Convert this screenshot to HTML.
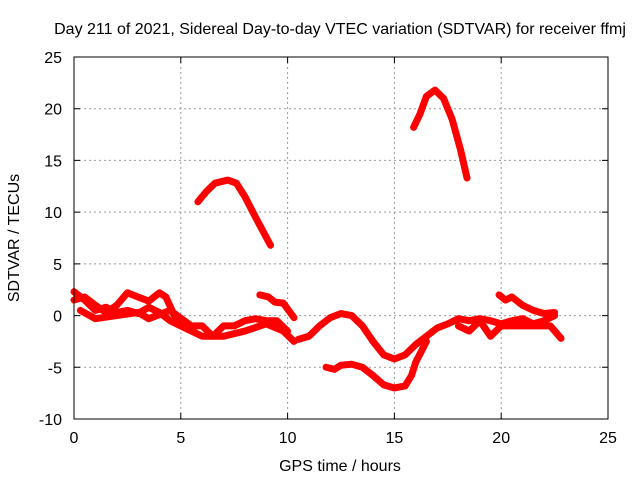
<!DOCTYPE html>
<html><head><meta charset="utf-8"><style>
body{margin:0;background:#fff;font-family:"Liberation Sans",sans-serif}
svg text{font-family:"Liberation Sans",sans-serif;font-size:16px;fill:#000}
</style></head><body>
<svg id="chart" width="640" height="480">
<text x="340" y="34" text-anchor="middle">Day 211 of 2021, Sidereal Day-to-day VTEC variation (SDTVAR) for receiver ffmj</text>
<text x="340" y="471" text-anchor="middle">GPS time / hours</text>
<text transform="translate(19,238) rotate(-90)" text-anchor="middle">SDTVAR / TECUs</text>
<g id="grid"></g><g id="series"></g>
<rect x="74" y="57" width="534" height="362" fill="none" stroke="#000"/>
<g id="ticks"></g>
</svg>
<script>
const xTicks=[0,5,10,15,20,25];
const yTicks=[-10,-5,0,5,10,15,20,25];
const seriesArc1=[[5.8,11],[6.2,12],[6.6,12.8],[7.2,13.1],[7.6,12.8],[8.0,11.5],[8.5,9.5],[9.2,6.8]];
const seriesArc2=[[15.9,18.2],[16.2,19.5],[16.5,21.2],[16.9,21.8],[17.3,21],[17.7,19],[18.1,16],[18.4,13.3]];
const seriesLow1=[[0,2.3],[0.5,1.5],[1,0.5],[1.5,0.8],[2,0.3],[2.5,0.5],[3,0.2],[3.5,0.8],[4,0.3],[4.5,-0.5],[5,-1],[5.5,-1.5],[6,-2],[7,-2],[8,-1.5],[9,-0.8],[9.8,-1.5],[10.3,-2.5]];
const seriesLow2=[[0,1.5],[0.5,1.8],[1,1],[1.5,0.3],[2,1],[2.5,2.2],[3,1.8],[3.5,1.4],[4,2.2],[4.3,1.8],[4.7,0],[5,-0.5]];
const seriesLow3=[[0.3,0.5],[1,-0.3],[2,0],[3,0.3],[3.5,-0.3],[4.5,0.5],[5.5,-1],[6,-1],[6.5,-2],[7,-1],[7.5,-1],[8,-0.5],[8.5,-0.3],[9,-0.5],[9.5,-0.5],[10,-1.5]];
const seriesShort=[[8.7,2],[9.1,1.8],[9.4,1.3],[9.8,1.2],[10.3,-0.2]];
const seriesMid=[[10.5,-2.3],[11,-2],[11.5,-1],[12,-0.2],[12.5,0.2],[13,0],[13.5,-1],[14,-2.5],[14.5,-3.8],[15,-4.2],[15.5,-3.8],[16,-2.8],[16.5,-2],[17,-1.2],[17.5,-0.8],[18,-0.3],[18.5,-0.5],[19,-0.3],[19.5,-0.5],[20,-0.8],[20.5,-0.5],[21,-0.3],[21.5,-0.8],[22,-0.5],[22.5,0]];
const seriesLowArc=[[11.8,-5],[12.2,-5.2],[12.5,-4.8],[13,-4.7],[13.5,-5],[14,-5.8],[14.5,-6.7],[15,-7],[15.5,-6.8],[15.8,-5.8],[16,-4.5],[16.5,-2.5]];
const seriesLate=[[19.9,2],[20.2,1.5],[20.5,1.8],[21,1],[21.5,0.5],[22,0.2],[22.5,0.3]];
const seriesDip=[[18,-1],[18.5,-1.5],[19,-0.5],[19.5,-2],[20,-1],[21,-1],[22,-1],[22.3,-1],[22.8,-2.2]];
const allSeries=[seriesArc1,seriesArc2,seriesLow1,seriesLow2,seriesLow3,seriesShort,seriesMid,seriesLowArc,seriesLate,seriesDip];
const X=h=>74+h*534/25, Y=v=>57+(25-v)*362/35;
const NS="http://www.w3.org/2000/svg";
const grid=document.getElementById('grid'),ticks=document.getElementById('ticks'),ser=document.getElementById('series');
function mk(tag,attrs,parent){const e=document.createElementNS(NS,tag);for(const k in attrs)e.setAttribute(k,attrs[k]);parent.appendChild(e);return e;}
xTicks.forEach(t=>{const x=X(t);
 if(t>0&&t<25){const g=mk('line',{x1:x,x2:x,y1:57,y2:419,stroke:'#999','stroke-dasharray':'2,3'},grid);
 }
 const tk=mk('path',{d:`M${x},419v-6M${x},57v6`,stroke:'#000'},ticks);
 
 const l=mk('text',{x:x,y:443,'text-anchor':'middle'},ticks);l.textContent=t;
 });
yTicks.forEach(t=>{const y=Y(t);
 if(t>-10&&t<25){const g=mk('line',{x1:74,x2:608,y1:y,y2:y,stroke:'#999','stroke-dasharray':'2,3'},grid);
 }
 const tk=mk('path',{d:`M74,${y}h6M608,${y}h-6`,stroke:'#000'},ticks);
 
 const l=mk('text',{x:62,y:y+6,'text-anchor':'end'},ticks);l.textContent=t;
 });
allSeries.forEach(s=>{const p=mk('polyline',{points:s.map(d=>X(d[0])+','+Y(d[1])).join(' '),fill:'none',stroke:'#f00','stroke-width':7,'stroke-linejoin':'round','stroke-linecap':'round'},ser);
 });
</script>
</body></html>
